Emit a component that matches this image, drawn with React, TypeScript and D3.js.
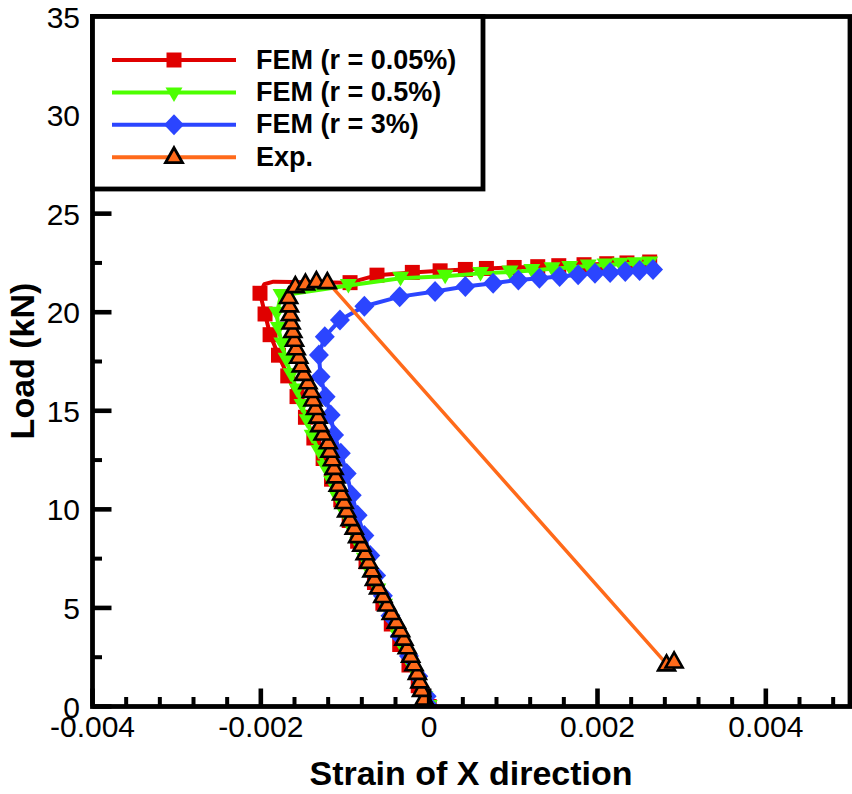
import * as d3 from 'd3';

// Load-strain curves (strain, load in kN)
const redStrain = [0, -0.00013, -0.00024, -0.00035, -0.00045, -0.00055, -0.00065, -0.00075, -0.00085, -0.00095, -0.00105, -0.00116, -0.00126, -0.00137, -0.00147, -0.00157, -0.00168, -0.00179, -0.00189, -0.00195, -0.00201, -0.00196, -0.00185, -0.00094, -0.00062, -0.0002, 0.00013, 0.00043, 0.00068, 0.00101, 0.00129, 0.00154, 0.00184, 0.00211, 0.00235, 0.00262];
const redLoad = [0, 1.05, 2.1, 3.14, 4.19, 5.24, 6.29, 7.34, 8.38, 9.43, 10.48, 11.53, 12.58, 13.62, 14.67, 15.72, 16.77, 17.82, 18.86, 19.91, 20.96, 21.42, 21.55, 21.5, 21.88, 22.02, 22.1, 22.17, 22.22, 22.27, 22.31, 22.36, 22.41, 22.46, 22.5, 22.55];
const redNoMark = [21, 22];

const greenStrain = [0, -0.00005, -0.00013, -0.00021, -0.00029, -0.00037, -0.00045, -0.00053, -0.00061, -0.00069, -0.00077, -0.00085, -0.00093, -0.00101, -0.00109, -0.00116, -0.00124, -0.00131, -0.00139, -0.00145, -0.00151, -0.00157, -0.00164, -0.0017, -0.00175, -0.00179, -0.00181, -0.00176, -0.00096, -0.00034, 0.00019, 0.00061, 0.00096, 0.00122, 0.00146, 0.00167, 0.00189, 0.00209, 0.00227, 0.00245, 0.00262];
const greenLoad = [0, 0.45, 1.23, 2.01, 2.79, 3.57, 4.35, 5.13, 5.91, 6.69, 7.47, 8.25, 9.03, 9.81, 10.59, 11.37, 12.15, 12.93, 13.71, 14.49, 15.27, 16.05, 16.83, 17.61, 18.39, 19.17, 19.95, 20.85, 21.36, 21.72, 21.82, 21.97, 22.04, 22.12, 22.2, 22.27, 22.34, 22.39, 22.43, 22.46, 22.5];

const blueStrain = [0, -0.00003, -0.00013, -0.00024, -0.00035, -0.00046, -0.00055, -0.00063, -0.0007, -0.00077, -0.00085, -0.00092, -0.00098, -0.00105, -0.00113, -0.00117, -0.00123, -0.00129, -0.00131, -0.00124, -0.00106, -0.00077, -0.00035, 0.00007, 0.00043, 0.00076, 0.00106, 0.00131, 0.00155, 0.00177, 0.00197, 0.00215, 0.00233, 0.0025, 0.00266];
const blueLoad = [0, 0.52, 1.54, 2.56, 3.58, 4.6, 5.62, 6.64, 7.66, 8.68, 9.7, 10.72, 11.82, 12.84, 13.77, 14.78, 15.71, 16.73, 17.83, 18.76, 19.6, 20.3, 20.79, 21.05, 21.3, 21.47, 21.64, 21.72, 21.81, 21.9, 21.98, 22.02, 22.06, 22.11, 22.17];

const expStrain = [0, -0.00006, -0.00009, -0.00011, -0.00014, -0.00018, -0.00022, -0.00026, -0.0003, -0.00034, -0.00039, -0.00045, -0.0005, -0.00055, -0.0006, -0.00065, -0.00068, -0.00072, -0.00076, -0.0008, -0.00085, -0.00089, -0.00094, -0.00098, -0.00101, -0.00104, -0.00108, -0.00111, -0.00113, -0.00115, -0.00118, -0.0012, -0.00126, -0.0013, -0.00132, -0.00135, -0.00138, -0.0014, -0.00144, -0.00149, -0.00152, -0.00155, -0.00158, -0.0016, -0.00162, -0.00164, -0.00165, -0.00166, -0.00167, -0.00159, -0.00147, -0.00134, -0.00121, 0.00282, 0.00291];
const expLoad = [0, 0.43, 0.87, 1.3, 1.73, 2.17, 2.6, 3.03, 3.47, 3.9, 4.33, 4.77, 5.2, 5.63, 6.07, 6.5, 6.93, 7.37, 7.8, 8.23, 8.67, 9.1, 9.53, 9.97, 10.4, 10.83, 11.27, 11.7, 12.13, 12.57, 13.0, 13.43, 13.87, 14.3, 14.73, 15.17, 15.6, 16.03, 16.47, 16.9, 17.33, 17.77, 18.2, 18.63, 19.07, 19.5, 19.93, 20.37, 20.8, 21.35, 21.48, 21.6, 21.55, 2.16, 2.31];

const legendLabels = ['FEM (r = 0.05%)', 'FEM (r = 0.5%)', 'FEM (r = 3%)', 'Exp.'];
const xTickValues = [-0.004, -0.002, 0, 0.002, 0.004];
const xTickLabels = ['-0.004', '-0.002', '0', '0.002', '0.004'];
const yTickValues = [0, 5, 10, 15, 20, 25, 30, 35];
const yTickLabels = ['0', '5', '10', '15', '20', '25', '30', '35'];

const W = 852;
const H = 794;
const left = 92.5, right = 850, top = 16.5, bottom = 706.5;
const FONT = '"Liberation Sans", Arial, Helvetica, sans-serif';

const x = d3.scaleLinear().domain([-0.004, 0.005]).range([left, right]);
const y = d3.scaleLinear().domain([0, 35]).range([bottom, top]);

const RED = '#e00000';
const GREEN = '#4cff00';
const BLUE = '#2b45ff';
const ORANGE = '#ff6a1a';

type Shape = 'square' | 'down' | 'diamond' | 'up';

function markerPath(shape: Shape, cx: number, cy: number): string {
  if (shape === 'square') {
    const s = 7.5;
    return `M${cx - s},${cy - s}H${cx + s}V${cy + s}H${cx - s}Z`;
  }
  if (shape === 'down') {
    return `M${cx - 8.5},${cy - 6.5}L${cx + 8.5},${cy - 6.5}L${cx},${cy + 8}Z`;
  }
  if (shape === 'diamond') {
    return `M${cx},${cy - 10.5}L${cx + 10},${cy}L${cx},${cy + 10.5}L${cx - 10},${cy}Z`;
  }
  return `M${cx},${cy - 8.5}L${cx + 8.5},${cy + 6.5}L${cx - 8.5},${cy + 6.5}Z`;
}

const series = [
  { strain: redStrain, load: redLoad, color: RED, shape: 'square' as Shape, skip: redNoMark, lw: 4 },
  { strain: greenStrain, load: greenLoad, color: GREEN, shape: 'down' as Shape, skip: [] as number[], lw: 4 },
  { strain: blueStrain, load: blueLoad, color: BLUE, shape: 'diamond' as Shape, skip: [] as number[], lw: 4 },
  { strain: expStrain, load: expLoad, color: ORANGE, shape: 'up' as Shape, skip: [] as number[], lw: 3.5 },
];

const line = d3
  .line<[number, number]>()
  .x((d) => x(d[0]))
  .y((d) => y(d[1]));

export default function App() {
  const xMinor = d3.range(-0.004, 0.00501, 0.0004).filter((v) => Math.abs(Math.round(v / 0.002) * 0.002 - v) > 1e-7);
  const yMinor = d3.range(2.5, 35, 5);

  return (
    <svg width={W} height={H} style={{ position: 'absolute', left: 0, top: 0, background: '#fff' }} fontFamily={FONT}>
      <rect x={0} y={0} width={W} height={H} fill="#fff" />
      <defs>
        <clipPath id="plot">
          <rect x={left} y={top} width={right - left} height={bottom - top} />
        </clipPath>
      </defs>

      {/* curves */}
      <g clipPath="url(#plot)">
        {series.map((s, i) => {
          const pts = s.strain.map((v, k) => [v, s.load[k]] as [number, number]);
          return (
            <g key={i}>
              <path d={line(pts) || ''} fill="none" stroke={s.color} strokeWidth={s.lw} strokeLinejoin="round" />
              {pts.map((p, k) =>
                s.skip.includes(k) ? null : (
                  <path
                    key={k}
                    d={markerPath(s.shape, x(p[0]), y(p[1]))}
                    fill={s.color}
                    stroke={s.shape === 'up' ? '#000' : 'none'}
                    strokeWidth={2.6}
                    strokeLinejoin="miter"
                  />
                )
              )}
            </g>
          );
        })}
      </g>

      {/* frame */}
      <rect x={left} y={top} width={right - left} height={bottom - top} fill="none" stroke="#000" strokeWidth={4.8} />

      {/* x ticks */}
      {xTickValues.map((v, i) => (
        <g key={'xt' + i}>
          <line x1={x(v)} x2={x(v)} y1={bottom} y2={bottom - 18} stroke="#000" strokeWidth={4.6} />
          <text x={x(v)} y={737} fontSize={30} textAnchor="middle">
            {xTickLabels[i]}
          </text>
        </g>
      ))}
      {xMinor.map((v, i) => (
        <line key={'xm' + i} x1={x(v)} x2={x(v)} y1={bottom} y2={bottom - 9.5} stroke="#000" strokeWidth={4} />
      ))}

      {/* y ticks */}
      {yTickValues.map((v, i) => (
        <g key={'yt' + i}>
          <line x1={left} x2={left + 19} y1={y(v)} y2={y(v)} stroke="#000" strokeWidth={4.6} />
          <text x={80} y={y(v) + 11} fontSize={30} textAnchor="end">
            {yTickLabels[i]}
          </text>
        </g>
      ))}
      {yMinor.map((v, i) => (
        <line key={'ym' + i} x1={left} x2={left + 9.5} y1={y(v)} y2={y(v)} stroke="#000" strokeWidth={4} />
      ))}

      {/* axis titles */}
      <text x={471} y={785} fontSize={34} fontWeight="bold" textAnchor="middle">
        Strain of X direction
      </text>
      <text transform="translate(34,361) rotate(-90)" fontSize={34} fontWeight="bold" textAnchor="middle">
        Load (kN)
      </text>

      {/* legend */}
      <rect x={left} y={top} width={483 - left} height={189 - top} fill="#fff" stroke="#000" strokeWidth={4.8} />
      {series.map((s, i) => {
        const ly = 60 + i * 32.4;
        return (
          <g key={'lg' + i}>
            <line x1={112} x2={236} y1={ly} y2={ly} stroke={s.color} strokeWidth={4} />
            <path
              d={markerPath(s.shape, 174, ly + (s.shape === 'down' ? 1.5 : s.shape === 'up' ? -1 : 0))}
              fill={s.color}
              stroke={s.shape === 'up' ? '#000' : 'none'}
              strokeWidth={2.8}
            />
            <text x={256} y={ly + 8.5} fontSize={27} fontWeight="bold">
              {legendLabels[i]}
            </text>
          </g>
        );
      })}
    </svg>
  );
}
